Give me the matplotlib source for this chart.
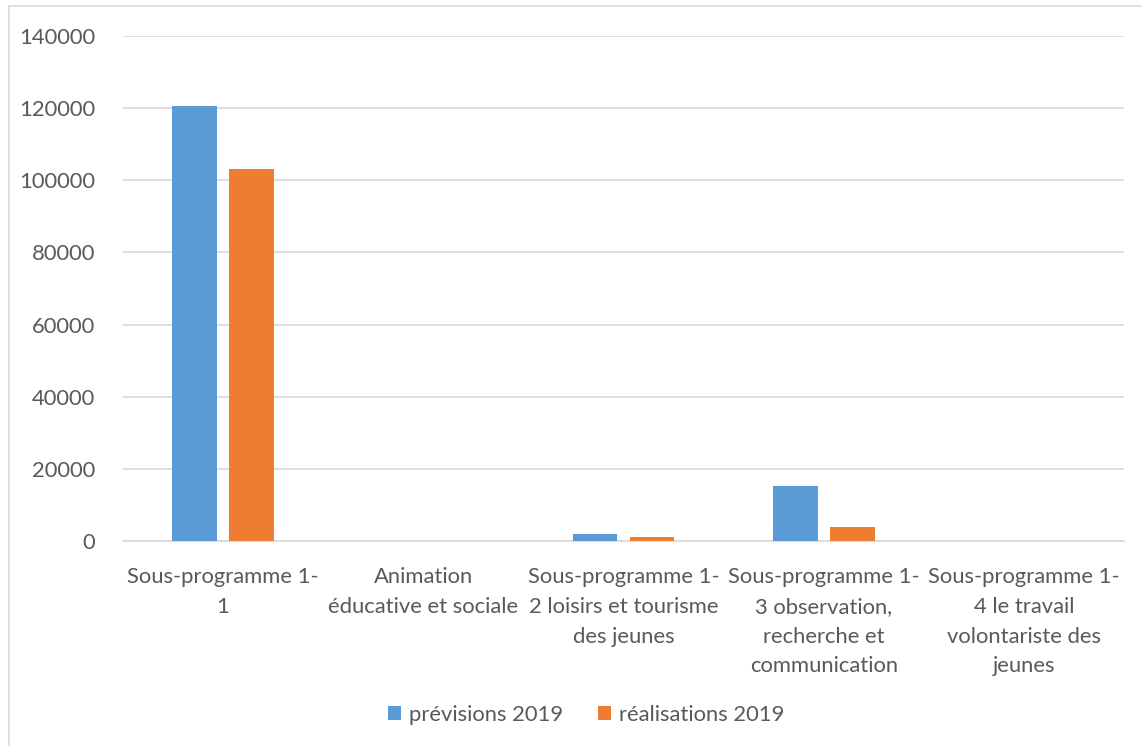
import numpy as np
import matplotlib
matplotlib.use("Agg")
import matplotlib.pyplot as plt
from matplotlib.patches import Rectangle

plt.rcParams['font.family'] = ['Lato', 'DejaVu Sans']

categories = [
    "Sous-programme 1-\n1",
    "Animation\néducative et sociale",
    "Sous-programme 1-\n2 loisirs et tourisme\ndes jeunes",
    "Sous-programme 1-\n3 observation,\nrecherche et\ncommunication",
    "Sous-programme 1-\n4 le travail\nvolontariste des\njeunes",
]
previsions_2019 = [120600, 0, 1850, 15300, 0]
realisations_2019 = [103050, 0, 1100, 4000, 0]
series_names = ["prévisions 2019", "réalisations 2019"]

blue = "#5B9BD5"
orange = "#ED7D31"
text_col = "#595959"
grid_col = "#D9D9D9"
fs = 15.8

fig = plt.figure(figsize=(11.42, 7.46), dpi=100)
ax = fig.add_axes([123 / 1142, 1 - 541 / 746, (1124 - 123) / 1142, (541 - 36) / 746])

x = np.arange(len(categories))
w = 0.224
off = 0.142
ax.bar(x - off, previsions_2019, w, color=blue, label=series_names[0], zorder=3)
ax.bar(x + off, realisations_2019, w, color=orange, label=series_names[1], zorder=3)

ax.set_xlim(-0.5, len(categories) - 0.5)
ax.set_ylim(0, 140000)
ax.set_yticks(np.arange(0, 140001, 20000))
ax.set_yticklabels([str(v) for v in range(0, 140001, 20000)])
ax.set_xticks(x)
ax.set_xticklabels(categories, linespacing=1.6)

ax.grid(axis='y', color=grid_col, linewidth=1.2, zorder=0)
for s in ['top', 'right', 'left']:
    ax.spines[s].set_visible(False)
ax.spines['bottom'].set_color(grid_col)
ax.spines['bottom'].set_linewidth(1.2)
ax.tick_params(axis='both', length=0, colors=text_col, labelsize=fs)
ax.tick_params(axis='y', pad=20)
ax.tick_params(axis='x', pad=19)

fig.legend(loc='center', bbox_to_anchor=(586 / 1142, 1 - 715 / 746), ncol=2,
           frameon=False, fontsize=fs, handlelength=0.6, handleheight=0.6,
           handletextpad=0.35, columnspacing=1.6, labelcolor=text_col)

# chart frame
fig.patches.append(Rectangle((9 / 1142, -0.01), 1.0, 1 - 6 / 746 + 0.01,
                             transform=fig.transFigure, fill=False,
                             edgecolor=grid_col, linewidth=1.2))

fig.savefig("out.png", dpi=100)
